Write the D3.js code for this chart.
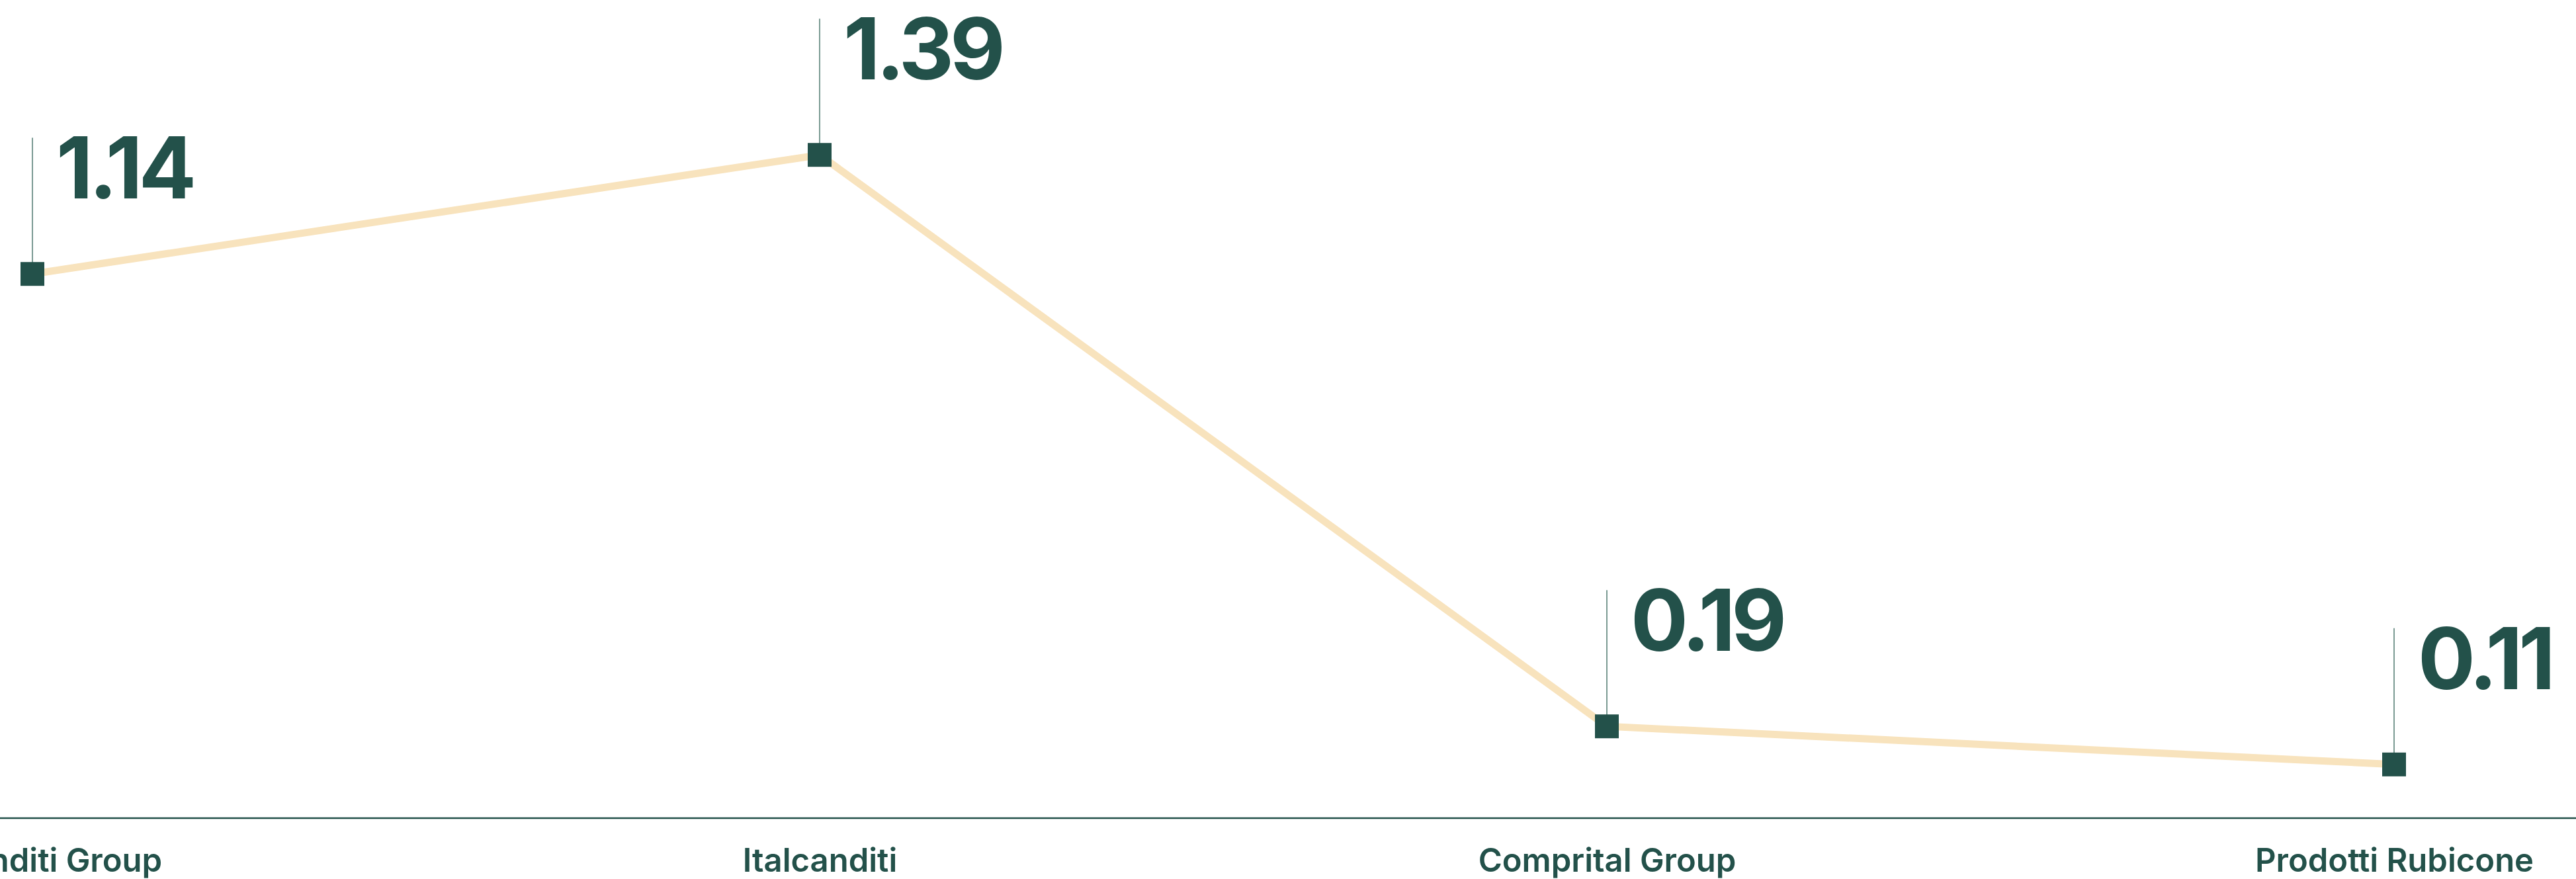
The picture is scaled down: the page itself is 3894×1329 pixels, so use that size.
<!DOCTYPE html>
<html>
<head>
<meta charset="utf-8">
<script src="https://cdn.jsdelivr.net/npm/d3@7"></script>
<style>
  body { margin: 0; background: #ffffff; }
  svg { display: block; }
</style>
</head>
<body>
<div id="chart"></div>
<script>
// data
var companies = ["Italcanditi Group", "Italcanditi", "Comprital Group", "Prodotti Rubicone"];
var values = [1.14, 1.39, 0.19, 0.11];
var valueLabels = ["1.14", "1.39", "0.19", "0.11"];

var width = 3894, height = 1329;
var dark = "#23514a";
var lineColor = "#f8e3bd";

var svg = d3.select("#chart")
  .append("svg")
  .attr("width", width)
  .attr("height", height);

var xScale = d3.scalePoint()
  .domain(companies)
  .range([49, 3619]);

var yScale = d3.scaleLinear()
  .domain([0, 1.4])
  .range([1235, 227]);

var data = companies.map(function(c, i) {
  return {name: c, value: values[i], label: valueLabels[i]};
});

// baseline axis
var axis = svg.append("g")
  .attr("class", "x-axis")
  .attr("transform", "translate(0,1237)")
  .call(d3.axisBottom(xScale).tickSize(0).tickPadding(0));
axis.select(".domain").remove();
axis.append("line")
  .attr("x1", 0).attr("x2", width)
  .attr("stroke", dark)
  .attr("stroke-width", 2.5);
axis.selectAll(".tick text")
  .attr("y", 81)
  .attr("dy", 0)
  .style("font-family", "Inter, 'Noto Sans', sans-serif")
  .style("font-size", "49px")
  .style("font-weight", 600)
  .style("fill", dark);

// stems above each point
svg.append("g")
  .selectAll("line")
  .data(data)
  .enter().append("line")
    .attr("x1", function(d) { return xScale(d.name); })
    .attr("x2", function(d) { return xScale(d.name); })
    .attr("y1", function(d) { return yScale(d.value); })
    .attr("y2", function(d) { return yScale(d.value) - 206; })
    .attr("stroke", "#5a8279")
    .attr("stroke-width", 1.6);

// the line
var line = d3.line()
  .x(function(d) { return xScale(d.name); })
  .y(function(d) { return yScale(d.value); });

svg.append("path")
  .datum(data)
  .attr("d", line)
  .attr("fill", "none")
  .attr("stroke", lineColor)
  .attr("stroke-width", 11)
  .attr("stroke-linejoin", "miter");

// square markers
var sq = 36;
svg.append("g")
  .selectAll("rect")
  .data(data)
  .enter().append("rect")
    .attr("x", function(d) { return xScale(d.name) - sq / 2; })
    .attr("y", function(d) { return yScale(d.value) - sq / 2; })
    .attr("width", sq)
    .attr("height", sq)
    .attr("fill", dark);

// value labels
svg.append("g")
  .selectAll("text")
  .data(data)
  .enter().append("text")
    .attr("x", function(d) { return xScale(d.name) + 36; })
    .attr("y", function(d) { return yScale(d.value) - 114; })
    .text(function(d) { return d.label; })
    .style("font-family", "Inter, 'Noto Sans', sans-serif")
    .style("font-size", "129px")
    .style("font-weight", 700)
    .style("letter-spacing", "-6px")
    .style("fill", dark);
</script>
</body>
</html>
